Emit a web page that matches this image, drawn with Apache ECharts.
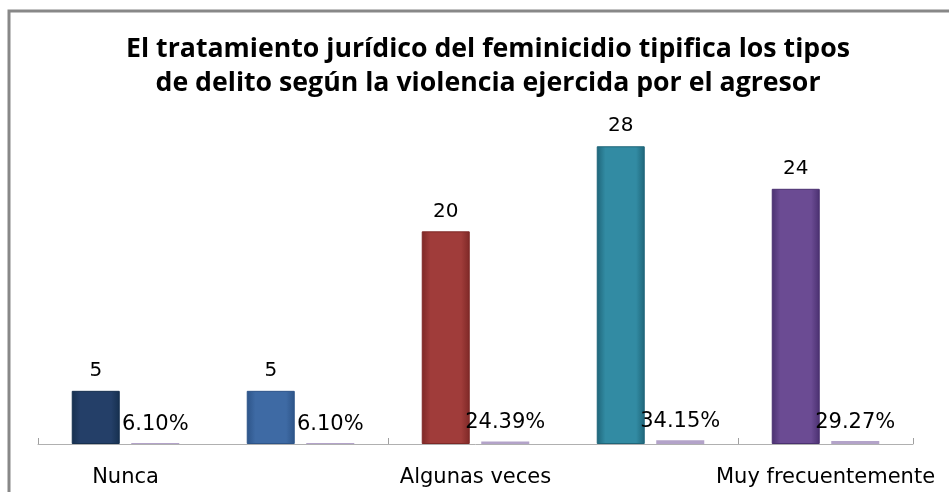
<!DOCTYPE html>
<html>
<head>
<meta charset="utf-8">
<script src="https://cdn.jsdelivr.net/npm/echarts@6/dist/echarts.min.js"></script>
<style>
html,body{margin:0;padding:0;background:#fff;}
#chart{width:949px;height:492px;}
</style>
</head>
<body>
<div id="chart"></div>
<script>
var categories = ['Nunca', 'Casi nunca', 'Algunas veces', 'Frecuentemente', 'Muy frecuentemente'];
var counts = [5, 5, 20, 28, 24];
var percents = [0.0610, 0.0610, 0.2439, 0.3415, 0.2927];
var titleText = 'El tratamiento jurídico del feminicidio tipifica los tipos\nde delito según la violencia ejercida por el agresor';

var palette = [
  ['#16304f', '#243f68'],
  ['#2d5488', '#3e6aa4'],
  ['#7e2826', '#a03c3a'],
  ['#1f6579', '#328ba3'],
  ['#4a3070', '#6b4b93']
];
function grad(c) {
  return new echarts.graphic.LinearGradient(0, 0, 1, 0, [
    {offset: 0, color: c[0]},
    {offset: 0.18, color: c[1]},
    {offset: 0.82, color: c[1]},
    {offset: 1, color: c[0]}
  ]);
}

var chart = echarts.init(document.getElementById('chart'));
chart.setOption({
  animation: false,
  backgroundColor: '#ffffff',
  title: {
    text: titleText,
    left: 483,
    top: 27,
    textAlign: 'center',
    textStyle: {
      fontFamily: 'Open Sans',
      fontWeight: 'bold',
      fontSize: 26.7,
      lineHeight: 34,
      color: '#000000'
    }
  },
  graphic: [{
    type: 'rect',
    shape: {x: 9, y: 11, width: 1200, height: 1200},
    style: {fill: 'none', stroke: '#888888', lineWidth: 3},
    silent: true
  }],
  grid: {left: 38, right: 36, top: 125, bottom: 48},
  xAxis: {
    type: 'category',
    data: categories,
    axisLine: {lineStyle: {color: '#b0b0b0', width: 1}},
    axisTick: {show: true, inside: true, length: 6, lineStyle: {color: '#a0a0a0'}},
    axisLabel: {
      interval: 1,
      margin: 23,
      fontFamily: 'DejaVu Sans',
      fontSize: 21,
      color: '#000000'
    }
  },
  yAxis: {
    type: 'value',
    min: 0,
    max: 30,
    show: false,
    splitLine: {show: false}
  },
  series: [{
    type: 'bar',
    name: 'Frecuencia',
    barWidth: 48,
    barGap: '24%',
    data: counts.map(function (v, i) {
      return {value: v, itemStyle: {color: grad(palette[i]), borderColor: palette[i][0], borderWidth: 1}};
    }),
    label: {
      show: true,
      position: 'top',
      distance: 10,
      fontFamily: 'DejaVu Sans',
      fontSize: 20,
      color: '#000000'
    }
  }, {
    type: 'bar',
    name: 'Porcentaje',
    barWidth: 48,
    barMinHeight: 1,
    data: percents,
    itemStyle: {color: '#b3a3c9'},
    z: 3,
    label: {
      show: true,
      position: 'top',
      distance: 8,
      fontFamily: 'DejaVu Sans',
      fontSize: 21,
      color: '#000000',
      formatter: function (p) { return (p.value * 100).toFixed(2) + '%'; }
    }
  }]
});
</script>
</body>
</html>
